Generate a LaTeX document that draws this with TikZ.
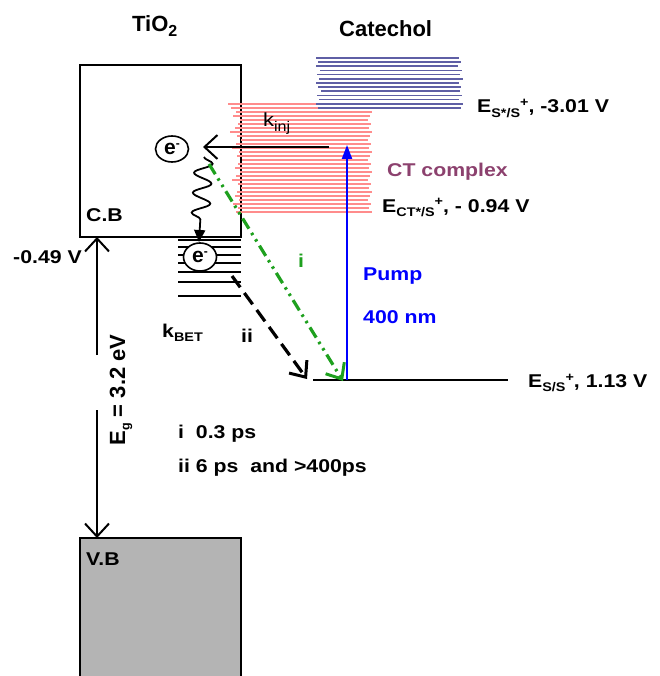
\documentclass[tikz,border=0pt]{standalone}
\usepackage{fontspec}
\setmainfont{Liberation Sans}
\newfontfamily\lf[FakeStretch=1.15]{Liberation Sans}
\usetikzlibrary{arrows.meta,decorations.pathmorphing,shapes.geometric}
\newcommand{\lbl}{\lf\bfseries\fontsize{18.5}{20}\selectfont}
\newcommand{\ttl}{\bfseries\fontsize{22}{24}\selectfont}
\newcommand{\sbs}[1]{\raisebox{-4.5pt}{\fontsize{12.5}{13}\selectfont #1}}
\newcommand{\sps}[1]{\raisebox{6pt}{\fontsize{12.5}{13}\selectfont #1}}
\definecolor{ctred}{RGB}{255,140,140}
\definecolor{sblue}{RGB}{95,95,165}
\definecolor{ctpurp}{RGB}{140,65,110}
\definecolor{igreen}{RGB}{30,160,30}
\definecolor{vbgray}{RGB}{180,180,180}
\begin{document}
\begin{tikzpicture}[x=1pt,y=-1pt,
  txt/.style={inner sep=0pt,anchor=base west},
  barb/.style={-{Straight Barb[length=13pt,width=24pt,line width=2pt]}},
  elec/.style={draw,ellipse,line width=1.6pt,minimum width=33pt,minimum height=26pt,inner sep=0pt,font=\bfseries\fontsize{21}{21}\selectfont},
  box/.style={draw,line width=2.4pt}]
\useasboundingbox (0,0) rectangle (659,676);
% boxes
\draw[box] (80,65) rectangle (241,237);
\draw[box,fill=vbgray] (80,538) rectangle (241,690);
% CT complex lines
\foreach \yy/\xl [count=\i] in {104/228,108/231,112/236,116/233,120/240,124/238,128/235,132/230,136/237,140/241,144/236,148/232,152/239,156/237,160/242,164/238,168/235,172/240,176/236,180/232,184/238,188/241,192/237,196/235,200/239,204/233,208/238,212/236}{
  \pgfmathsetmacro{\xr}{\yy<111 ? 320 : 368+mod(\i*3,5)}
  \draw[ctred,line width=1.4pt] (\xl,\yy) -- (\xr,\yy);
}
% S* lines
\foreach \yy/\xl/\xr in {58/316/459,62.2/318/461,66.3/316/458,70.5/320/462,74.7/317/460,78.8/319/463,83/316/459,87.2/318/461,91.3/321/460,95.5/317/462,99.7/319/459,103.8/316/463,108/318/461}{
  \draw[sblue,line width=1.6pt] (\xl,\yy) -- (\xr,\yy);
}
% trap states
\foreach \yy in {240,247,255,263,272,282,296}{
  \draw[line width=1.9pt] (178,\yy) -- (241,\yy);
}
% electrons
\node[elec] (e1) at (172,149) {e\raisebox{7pt}{\fontsize{12}{12}\selectfont -}};
\node[elec,fill=white,minimum height=28pt] (e2) at (200,257) {e\raisebox{7pt}{\fontsize{12}{12}\selectfont -}};
% coordinates
\coordinate (kinjS) at (329,147);
\coordinate (kinjE) at (203,147);
\coordinate (w1) at (204,157);
\coordinate (w2) at (199,242);
\coordinate (gS) at (209,164);
\coordinate (gE) at (343,381);
\coordinate (dS) at (232,276);
\coordinate (dE) at (307,379);
\coordinate (ssL) at (313,380);
\coordinate (ssR) at (508,380);
\coordinate (pB) at (347,380);
\coordinate (pT) at (347,145);
\coordinate (cbB) at (97,237);
\coordinate (eg1) at (97,355);
\coordinate (eg2) at (97,410);
\coordinate (vbT) at (97,538);
% arrows
\draw[barb,line width=1.8pt] (kinjS) -- (kinjE);
\draw[line width=1.8pt,decorate,decoration={snake,segment length=20pt,amplitude=9pt,post length=20pt},-{Triangle[length=12pt,width=11pt]}] (w1) -- (w2);
\draw[line width=2.4pt] (ssL) -- (ssR);
\draw[blue,line width=2.2pt,-{Triangle[length=14pt,width=10pt]}] (pB) -- (pT);
\draw[igreen,line width=3.2pt,dash pattern=on 12pt off 5pt on 2.5pt off 5pt on 2.5pt off 5pt,-{Straight Barb[length=13pt,width=22pt,line width=3pt]}] (gS) -- (gE);
\draw[line width=3.2pt,dash pattern=on 14pt off 7pt,-{Straight Barb[length=13pt,width=22pt,line width=3pt]}] (dS) -- (dE);
\draw[barb,line width=2pt] (eg1) -- (cbB);
\draw[barb,line width=2pt] (eg2) -- (vbT);
% texts
\node[txt] (tio2) at (132,32) {\ttl TiO\sbs{\fontsize{16}{16}\selectfont 2}};
\node[txt] (cat) at (339,37) {\ttl Catechol};
\node[txt] (ess) at (477,113) {\lbl E\sbs{S*/S}\sps{+}, -3.01 V};
\node[txt,text=ctpurp] (ctc) at (387,177) {\lbl CT complex};
\node[txt] (ect) at (382,212) {\lbl E\sbs{CT*/S}\sps{+}, - 0.94 V};
\node[txt,text=blue] (pump) at (363,280) {\lbl Pump};
\node[txt,text=blue] (nm) at (363,323) {\lbl 400 nm};
\node[txt] (esg) at (528,387) {\lbl E\sbs{S/S}\sps{+}, 1.13 V};
\node[txt] (v049) at (13,263) {\lbl -0.49 V};
\node[txt] (cb) at (86,222) {\lbl C.B};
\node[txt] (vb) at (86,565) {\lbl V.B};
\node[txt] (t1) at (178,438) {\lbl i\ \ 0.3 ps};
\node[txt] (t2) at (178,472) {\lbl ii 6 ps\ \ and >400ps};
\node[txt] (kbet) at (162,337) {\lbl k\sbs{BET}};
\node[txt] (ii) at (241,342) {\lbl ii};
\node[txt,text=igreen] (i) at (298,267) {\lbl i};
\node[txt] (kinj) at (263,127) {\lf\fontsize{19}{20}\selectfont k\sbs{\fontsize{14}{14}\selectfont inj}};
\node[rotate=90,anchor=base,inner sep=0pt] (eg) at (125,390) {\ttl E\sbs{g} = 3.2 eV};
\end{tikzpicture}
\end{document}
